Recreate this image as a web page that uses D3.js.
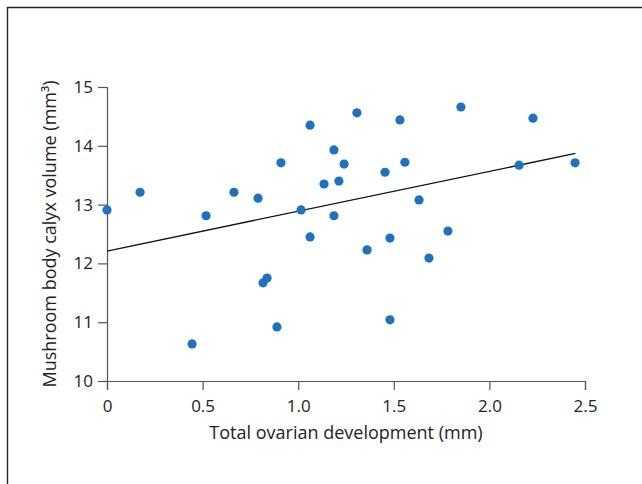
<!DOCTYPE html>
<html>
<head>
<meta charset="utf-8">
<script src="https://cdn.jsdelivr.net/npm/d3@7"></script>
<style>
  body { margin: 0; background: #fff; }
  svg text { font-family: "Open Sans", "Noto Sans", sans-serif; fill: #222; }
</style>
</head>
<body>
<div class="container"></div>
<script>
// total ovarian development (mm)
const ovary = [0, 0.173, 0.445, 0.518, 0.664, 0.79, 0.816, 0.837, 0.889, 0.91,
    1.015, 1.062, 1.062, 1.135, 1.187, 1.187, 1.213, 1.24, 1.307, 1.36,
    1.454, 1.48, 1.48, 1.532, 1.558, 1.632, 1.684, 1.783, 1.851, 2.155,
    2.228, 2.448];
// mushroom body calyx volume (mm3)
const calyx = [12.91, 13.21, 10.63, 12.81, 13.21, 13.11, 11.67, 11.75, 10.92, 13.71,
    12.91, 14.35, 12.45, 13.35, 13.93, 12.81, 13.40, 13.69, 14.56, 12.23,
    13.55, 12.43, 11.04, 14.44, 13.72, 13.08, 12.09, 12.55, 14.66, 13.67,
    14.47, 13.71];
// fitted line, start and end
const fitX = [0, 2.45];
const fitY = [12.21, 13.87];
const xTicks = [0, 0.5, 1.0, 1.5, 2.0, 2.5];
const yTicks = [10, 11, 12, 13, 14, 15];

const W = 642, H = 484;
const margin = {top: 87, right: 57, bottom: 103, left: 107};

const svg = d3.select('.container')
    .append('svg')
    .attr('width', W)
    .attr('height', H);

// frame round the figure (top and left edges are the only ones in view)
svg.append('path')
    .attr('d', `M7.5,${H} V7.5 H${W}`)
    .attr('fill', 'none')
    .attr('stroke', '#222')
    .attr('stroke-width', 1.4);

const x = d3.scaleLinear()
    .domain([0, 2.5])
    .range([margin.left, W - margin.right]);

const y = d3.scaleLinear()
    .domain([10, 15])
    .range([H - margin.bottom, margin.top]);

const xAxis = d3.axisBottom(x)
    .tickValues(xTicks)
    .tickFormat(d => d === 0 ? '0' : d3.format('.1f')(d))
    .tickSize(9)
    .tickPadding(10);

const yAxis = d3.axisLeft(y)
    .tickValues(yTicks)
    .tickFormat(d3.format('d'))
    .tickSize(9)
    .tickPadding(5);

const gx = svg.append('g')
    .attr('transform', `translate(0,${y(10)})`)
    .call(xAxis);

const gy = svg.append('g')
    .attr('transform', `translate(${x(0)},0)`)
    .call(yAxis);

[gx, gy].forEach(g => {
    g.select('.domain').attr('stroke', '#555').attr('stroke-width', 1.2);
    g.selectAll('.tick line').attr('stroke', '#555').attr('stroke-width', 1.2);
    g.selectAll('.tick text')
        .attr('font-family', '"Open Sans", sans-serif')
        .attr('font-size', 17)
        .attr('fill', '#222');
});

svg.append('text')
    .attr('x', (x(0) + x(2.5)) / 2)
    .attr('y', 439)
    .attr('text-anchor', 'middle')
    .attr('font-size', 18)
    .text('Total ovarian development (mm)');

svg.append('text')
    .attr('transform', `translate(56,${(y(10) + y(15)) / 2}) rotate(-90)`)
    .attr('text-anchor', 'middle')
    .attr('font-size', 18)
    .text('Mushroom body calyx volume (mm³)');

svg.append('line')
    .attr('x1', x(fitX[0]))
    .attr('y1', y(fitY[0]))
    .attr('x2', x(fitX[1]))
    .attr('y2', y(fitY[1]))
    .attr('stroke', '#111')
    .attr('stroke-width', 1.3);

svg.append('g')
    .selectAll('circle')
    .data(ovary.map((d, i) => [d, calyx[i]]))
    .join('circle')
    .attr('cx', d => x(d[0]))
    .attr('cy', d => y(d[1]))
    .attr('r', 4.6)
    .attr('fill', '#1f72bd');
</script>
</body>
</html>
